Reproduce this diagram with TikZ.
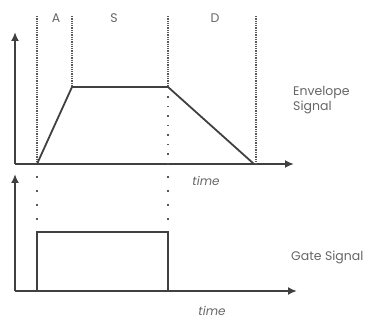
\documentclass[tikz,border=0pt]{standalone}
\usepackage{fontspec}
\setmainfont{Poppins}
\usetikzlibrary{arrows.meta}

\begin{document}
\begin{tikzpicture}[x=1pt,y=-1pt,>={Latex[length=9pt,width=8pt]},
  axis/.style={line width=1.8pt,draw=black!75,->},
  curve/.style={line width=1.8pt,draw=black!75},
  marker/.style={line width=1.3pt,draw=black!65,densely dotted},
  sparse/.style={line width=1.3pt,draw=black!65,dash pattern=on 1.5pt off 8pt},
  lbl/.style={text=black!60,font=\fontsize{12.5}{15}\selectfont,inner sep=0pt},
  tlbl/.style={lbl,font=\fontsize{12}{14}\selectfont\itshape}]
  \useasboundingbox (0,0) rectangle (389,320);
  % envelope axes
  \coordinate (eo) at (15,164);
  \coordinate (ey) at (15,32);
  \coordinate (ex) at (294,164);
  \draw[axis] (eo) -- (ey);
  \draw[axis] (eo) -- (ex);
  % phase markers
  \coordinate (a0) at (37,164);
  \coordinate (a1) at (72,87);
  \coordinate (s1) at (168,87);
  \coordinate (d1) at (254,164);
  \draw[marker] (37,16) -- (a0);
  \draw[marker] (72,16) -- (a1);
  \draw[marker] (168,16) -- (s1);
  \draw[sparse] (s1) -- (168,164);
  \draw[marker] (256,16) -- (256,164);
  \node[lbl] (lA) at (56,18) {A};
  \node[lbl] (lS) at (114,18) {S};
  \node[lbl] (lD) at (215,18) {D};
  % envelope
  \draw[curve] (a0) -- (a1) -- (s1) -- (d1);
  \node[tlbl] (et) at (206,181) {time};
  \node[lbl,align=left,anchor=west] (en) at (293,100) {Envelope\\Signal};
  % gate axes
  \coordinate (go) at (15,291);
  \coordinate (gy) at (15,174);
  \coordinate (gx) at (297,291);
  \draw[axis] (go) -- (gy);
  \draw[axis] (go) -- (gx);
  \draw[sparse,dash pattern=on 2pt off 12pt] (37,176) -- (37,230);
  \draw[sparse,dash pattern=on 2pt off 12pt] (168,176) -- (168,230);
  % gate pulse
  \draw[curve] (37,291) -- (37,232) -- (168,232) -- (168,291);
  \node[tlbl] (gt) at (212,311) {time};
  \node[lbl,anchor=west] (gn) at (291,257) {Gate Signal};
\end{tikzpicture}
\end{document}
